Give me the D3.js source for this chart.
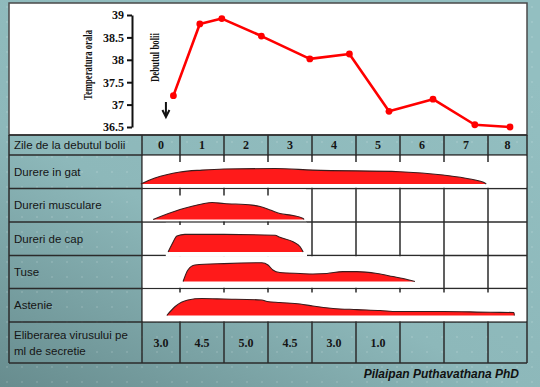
<!DOCTYPE html>
<html>
<head>
<meta charset="utf-8">
<script src="https://cdn.jsdelivr.net/npm/d3@7"></script>
<style>
  html, body { margin: 0; padding: 0; background: #8fb9bb; }
  svg { display: block; }
</style>
</head>
<body>
<svg id="chart"></svg>
<script>
// ---- data ----
const days = [0, 1, 2, 3, 4, 5, 6, 7, 8];
const headerLabel = "Zile de la debutul bolii";

// temperature curve (x in days since onset)
const tempDays   = [0.35, 0.95, 1.45, 2.35, 3.45, 4.35, 5.25, 6.25, 7.2, 8.0];
const tempValues = [37.2, 38.8, 38.92, 38.53, 38.02, 38.13, 36.85, 37.12, 36.55, 36.5];
const tempTicks  = [36.5, 37, 37.5, 38, 38.5, 39];

// symptom intensity profiles: [day, relative intensity]
const symptomNames = ["Durere in gat", "Dureri musculare", "Dureri de cap", "Tuse", "Astenie"];
const gatProfile = [[-0.39, 0], [-0.07, 0.37], [0.5, 0.75], [1.0, 0.87], [1.5, 0.94], [2.66, 0.97],
                    [3.52, 0.87], [5.5, 0.77], [6.48, 0.56], [7.09, 0.31], [7.43, 0.06], [7.46, 0]];
const musculareProfile = [[-0.11, 0], [0.5, 0.62], [1.0, 0.97], [1.23, 1.06], [1.5, 1.0], [2.14, 0.9],
                          [2.32, 0.81], [2.55, 0.6], [2.77, 0.37], [3.07, 0.25], [3.3, 0.06], [3.32, 0]];
const capProfile = [[0.23, 0], [0.32, 0.5], [0.43, 1.0], [0.61, 1.1], [1.5, 1.1], [2.66, 1.05],
                    [2.77, 0.92], [3.07, 0.64], [3.23, 0.33], [3.3, 0]];
const tuseProfile = [[0.57, 0], [0.68, 0.72], [0.84, 1.03], [1.5, 1.12], [2.36, 1.17], [2.5, 1.03],
                     [2.61, 0.72], [2.77, 0.56], [3.23, 0.5], [3.52, 0.47], [3.84, 0.5], [4.2, 0.62],
                     [4.52, 0.62], [4.98, 0.5], [5.34, 0.31], [5.57, 0.19], [5.84, 0]];
const astenieProfile = [[0.2, 0], [0.39, 0.56], [0.68, 0.97], [1.0, 1.06], [1.5, 1.03], [2.36, 0.97],
                        [2.48, 0.87], [2.77, 0.81], [3.23, 0.72], [3.52, 0.59], [3.98, 0.44], [4.52, 0.37],
                        [5.05, 0.31], [5.43, 0.25], [6.48, 0.25], [7.55, 0.2], [8.09, 0.19], [8.1, 0]];
const symptomProfiles = [gatProfile, musculareProfile, capProfile, tuseProfile, astenieProfile];

const virusLabel  = ["Eliberarea virusului pe", "ml de secretie"];
const virusValues = ["3.0", "4.5", "5.0", "4.5", "3.0", "1.0"];

const credit = "Pilaipan Puthavathana PhD";

// ---- layout ----
const W = 540, H = 387;
const panel = { left: 9, right: 527, top: 3, tableTop: 135 };
const labelRight = 142;
const rowEdges = [135, 155, 188.5, 222, 255.5, 288.5, 322, 363];
// white cut-outs the symptom pictures leave over the grid
const rowLayout = [
    { patch: [142, 527], tick: 7, base: 4.5 },
    { patch: [142, 306], tick: 7, base: 2.5 },
    { patch: [165, 307], tick: 3, base: 3.5, coverBottom: true },
    { patch: [142, 420], tick: 0, base: 7 },
    { patch: [142, 527], tick: 4, base: 6.5 }
];
const gridColor = "#2b2b2b";
const red = "#ff1a1a";

const svg = d3.select("#chart").attr("width", W).attr("height", H);
const defs = svg.append("defs");

// background
const bg = defs.append("linearGradient").attr("id", "bg")
    .attr("x1", "0%").attr("y1", "100%").attr("x2", "70%").attr("y2", "0%");
bg.append("stop").attr("offset", "0%").attr("stop-color", "#678c8e");
bg.append("stop").attr("offset", "45%").attr("stop-color", "#8db8ba");
bg.append("stop").attr("offset", "100%").attr("stop-color", "#93bfc1");
const dots = defs.append("pattern").attr("id", "dots")
    .attr("width", 15).attr("height", 15).attr("patternUnits", "userSpaceOnUse");
dots.append("circle").attr("cx", 7).attr("cy", 7).attr("r", 0.7)
    .attr("fill", "#ffffff").attr("opacity", 0.3);

svg.append("rect").attr("width", W).attr("height", H).attr("fill", "url(#bg)");
svg.append("rect").attr("width", W).attr("height", H).attr("fill", "url(#dots)");

// scales
const xDay = d3.scaleLinear().domain([0.5, 7.5]).range([180, 488]);
const yTemp = d3.scaleLinear().domain([36.5, 39]).range([127, 15]);
const hScale = d3.scaleLinear().domain([0, 1]).range([0, 16]);

const cellLeft = d => Math.max(labelRight, xDay(d - 0.5));
const cellRight = d => Math.min(panel.right, xDay(d + 0.5));
const cellMid = d => (cellLeft(d) + cellRight(d)) / 2;
const boundaries = days.slice(1).map(d => xDay(d - 0.5));

// ---- temperature panel ----
svg.append("rect")
    .attr("x", panel.left).attr("y", panel.top)
    .attr("width", panel.right - panel.left).attr("height", panel.tableTop - panel.top)
    .attr("fill", "#ffffff").attr("stroke", "#4a4a4a").attr("stroke-width", 1.5);

const yAxis = svg.append("g")
    .attr("transform", "translate(132, 0)")
    .call(d3.axisLeft(yTemp).tickValues(tempTicks).tickSize(5).tickSizeOuter(0).tickPadding(3)
        .tickFormat(d3.format("")));
yAxis.selectAll("path, line").attr("stroke", "#111").attr("stroke-width", 2);
yAxis.selectAll("text")
    .attr("fill", "#111")
    .style("font-family", "'Liberation Serif', 'DejaVu Serif', serif")
    .style("font-weight", "bold")
    .style("font-size", "12px");

svg.append("text")
    .attr("transform", "translate(92, 65) rotate(-90)")
    .attr("text-anchor", "middle")
    .attr("textLength", 70).attr("lengthAdjust", "spacingAndGlyphs")
    .style("font-family", "'Liberation Serif', serif")
    .style("font-weight", "bold")
    .style("font-size", "12px")
    .attr("fill", "#111")
    .text("Temperatura orala");

const arrowX = xDay(0.18);
svg.append("text")
    .attr("transform", `translate(${arrowX - 7}, 57.5) rotate(-90)`)
    .attr("text-anchor", "middle")
    .attr("textLength", 49).attr("lengthAdjust", "spacingAndGlyphs")
    .style("font-family", "'Liberation Serif', serif")
    .style("font-weight", "bold")
    .style("font-size", "12px")
    .attr("fill", "#111")
    .text("Debutul bolii");

svg.append("path")
    .attr("d", `M${arrowX},102V115`)
    .attr("stroke", "#111").attr("stroke-width", 2);
svg.append("path")
    .attr("d", `M${arrowX - 3.5},110L${arrowX},117L${arrowX + 3.5},110`)
    .attr("fill", "none").attr("stroke", "#111").attr("stroke-width", 2);

const tempData = tempDays.map((d, i) => ({ day: d, t: tempValues[i] }));
svg.append("path")
    .datum(tempData)
    .attr("fill", "none")
    .attr("stroke", "#ff0000")
    .attr("stroke-width", 2.6)
    .attr("stroke-linejoin", "round")
    .attr("d", d3.line().x(d => xDay(d.day)).y(d => yTemp(d.t)));
svg.selectAll(".tdot")
    .data(tempData)
    .join("circle")
    .attr("class", "tdot")
    .attr("cx", d => xDay(d.day))
    .attr("cy", d => yTemp(d.t))
    .attr("r", 3.4)
    .attr("fill", "#ff0000");

// ---- table ----
const symTop = rowEdges[1], symBottom = rowEdges[6];
svg.append("rect")
    .attr("x", labelRight).attr("y", symTop)
    .attr("width", panel.right - labelRight).attr("height", symBottom - symTop)
    .attr("fill", "#ffffff");

const grid = svg.append("g")
    .attr("stroke", gridColor).attr("stroke-width", 1.5);
rowEdges.forEach(y => {
    grid.append("line").attr("x1", panel.left).attr("x2", panel.right).attr("y1", y).attr("y2", y);
});
[panel.left, labelRight, panel.right].concat(boundaries).forEach(x => {
    grid.append("line").attr("x1", x).attr("x2", x)
        .attr("y1", rowEdges[0]).attr("y2", rowEdges[rowEdges.length - 1]);
});

// symptom rows: white patch, short ticks, shape
symptomProfiles.forEach((profile, i) => {
    const top = rowEdges[i + 1], bottom = rowEdges[i + 2];
    const lay = rowLayout[i];
    const x0 = lay.patch[0] + 0.8, x1 = Math.min(lay.patch[1], panel.right - 0.8);
    svg.append("rect")
        .attr("x", x0).attr("y", top + 0.8)
        .attr("width", x1 - x0)
        .attr("height", bottom - top - 1.6 + (lay.coverBottom ? 2 : 0))
        .attr("fill", "#ffffff");
    if (lay.tick > 0) {
        boundaries.filter(b => b > x0 && b < x1).forEach(b => {
            svg.append("line")
                .attr("x1", b).attr("x2", b).attr("y1", top).attr("y2", top + lay.tick)
                .attr("stroke", gridColor).attr("stroke-width", 1.5);
        });
    }

    const base = bottom - lay.base;
    const area = d3.area()
        .x(d => xDay(d[0]))
        .y0(base)
        .y1(d => base - hScale(d[1]))
        .curve(d3.curveMonotoneX);
    const topLine = d3.line()
        .x(d => xDay(d[0]))
        .y(d => base - hScale(d[1]))
        .curve(d3.curveMonotoneX);
    svg.append("path").datum(profile).attr("d", area).attr("fill", red);
    svg.append("path").datum(profile).attr("d", topLine)
        .attr("fill", "none").attr("stroke", "#3a1c1c").attr("stroke-width", 1.1);

    svg.append("text")
        .attr("x", 14).attr("y", (top + bottom) / 2)
        .attr("dy", "0.35em")
        .style("font-family", "'Liberation Sans', Arial, sans-serif")
        .style("font-size", "11.5px")
        .attr("fill", "#151515")
        .text(symptomNames[i]);
});

// header row
svg.append("text")
    .attr("x", 14).attr("y", (rowEdges[0] + rowEdges[1]) / 2)
    .attr("dy", "0.35em")
    .style("font-family", "'Liberation Sans', Arial, sans-serif")
    .style("font-size", "11.5px")
    .attr("fill", "#151515")
    .text(headerLabel);
svg.selectAll(".daylab")
    .data(days)
    .join("text")
    .attr("class", "daylab")
    .attr("x", d => cellMid(d))
    .attr("y", (rowEdges[0] + rowEdges[1]) / 2)
    .attr("dy", "0.35em")
    .attr("text-anchor", "middle")
    .style("font-family", "'Liberation Serif', serif")
    .style("font-weight", "bold")
    .style("font-size", "12px")
    .attr("fill", "#151515")
    .text(d => d);

// virus shedding row
const vTop = rowEdges[6], vBottom = rowEdges[7];
svg.append("text")
    .style("font-family", "'Liberation Sans', Arial, sans-serif")
    .style("font-size", "11.5px")
    .attr("fill", "#151515")
    .selectAll("tspan")
    .data(virusLabel)
    .join("tspan")
    .attr("x", 14)
    .attr("y", (d, i) => (vTop + vBottom) / 2 - 8 + i * 16)
    .attr("dy", "0.35em")
    .text(d => d);
svg.selectAll(".vval")
    .data(virusValues)
    .join("text")
    .attr("class", "vval")
    .attr("x", (d, i) => cellMid(i))
    .attr("y", (vTop + vBottom) / 2)
    .attr("dy", "0.35em")
    .attr("text-anchor", "middle")
    .style("font-family", "'Liberation Serif', serif")
    .style("font-weight", "bold")
    .style("font-size", "12px")
    .attr("fill", "#151515")
    .text(d => d);

// credit
svg.append("text")
    .attr("x", 519).attr("y", 378)
    .attr("text-anchor", "end")
    .style("font-family", "'Liberation Sans', Arial, sans-serif")
    .style("font-style", "italic")
    .style("font-weight", "bold")
    .style("font-size", "12px")
    .attr("fill", "#111")
    .text(credit);
</script>
</body>
</html>
